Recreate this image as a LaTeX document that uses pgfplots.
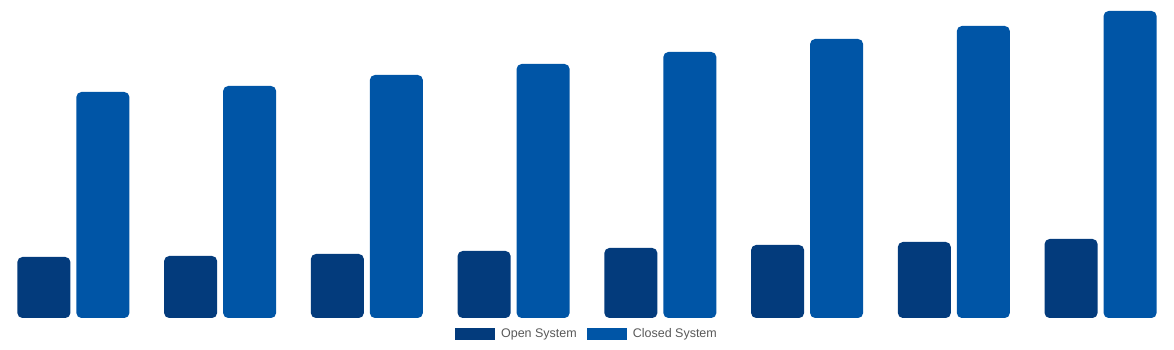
\documentclass[border=0pt]{standalone}
\usepackage{pgfplots}
\pgfplotsset{compat=1.18}
\usepackage{fontspec}
\setmainfont{Liberation Sans}
\definecolor{openc}{HTML}{033B7C}
\definecolor{closedc}{HTML}{0055A6}
\definecolor{legtext}{HTML}{595959}
\begin{document}
\begin{tikzpicture}
\path (0,-32pt) rectangle (1174pt,318pt);
\begin{axis}[
  at={(0,0)}, anchor=south west,
  scale only axis,
  width=1174pt, height=318pt,
  hide axis,
  xmin=-0.5, xmax=7.5,
  ymin=10, ymax=328,
  clip=true,
  ybar=6pt,
  bar width=53pt,
  legend columns=2,
  legend style={at={(0.5,0)}, anchor=center, yshift=-16pt, draw=none, fill=none,
    font=\fontsize{12.5pt}{14pt}\selectfont, text=legtext,
    /tikz/every odd column/.append style={column sep=4pt},
    /tikz/every even column/.append style={column sep=8pt},
    inner sep=0pt},
  legend image code/.code={\fill[#1,sharp corners] (0pt,-6pt) rectangle (40pt,6pt);},
]
\addplot[fill=openc, draw=none, rounded corners=5pt] coordinates {
(0,71) (1,72) (2,74) (3,77) (4,80) (5,83) (6,86) (7,89)};
\addplot[fill=closedc, draw=none, rounded corners=5pt] coordinates {
(0,236) (1,242) (2,253) (3,264) (4,276) (5,289) (6,302) (7,317)};
\legend{Open System, Closed System}
\end{axis}
\end{tikzpicture}
\end{document}
